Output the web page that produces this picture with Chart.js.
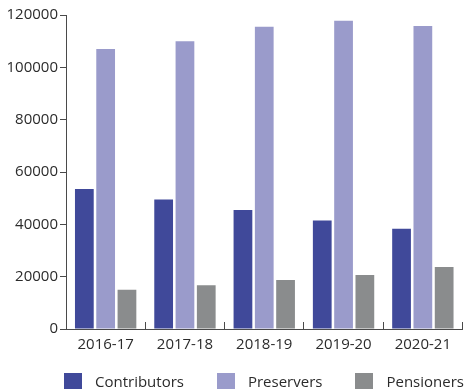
<!DOCTYPE html>
<html>
<head>
<meta charset="utf-8">
<script src="https://cdn.jsdelivr.net/npm/chart.js@4/dist/chart.umd.min.js"></script>
<style>
  body { margin: 0; background: #fff; }
  #chart-wrap { position: relative; width: 465px; height: 390px; }
  #members-legend {
      position: absolute; left: 64px; top: 373px;
      display: flex; margin: 0; padding: 0; list-style: none;
      font-family: 'Open Sans', sans-serif; font-size: 15px; color: #2b2b2b;
  }
  #members-legend li { display: flex; align-items: center; height: 16px; margin-right: 33px; white-space: nowrap; }
  #members-legend .box { width: 18px; height: 16px; margin-right: 13px; }
</style>
</head>
<body>
<div id="chart-wrap">
  <canvas id="members-bar-chart" width="465" height="390"></canvas>
  <ul id="members-legend"></ul>
</div>
<script>
// 연도별 회원 구성
const years = ["2016-17", "2017-18", "2018-19", "2019-20", "2020-21"];
const contributors = [53500, 49500, 45500, 41500, 38300];
const preservers = [107000, 110000, 115500, 117800, 115800];
const pensioners = [15000, 16700, 18700, 20600, 23700];
const yTicks = [0, 20000, 40000, 60000, 80000, 100000, 120000];

Chart.defaults.font.family = "'Open Sans', sans-serif";
Chart.defaults.font.size = 15;
Chart.defaults.color = "#2b2b2b";

const axisColor = "#4a4a4a";

var membersChart = new Chart(document.getElementById("members-bar-chart"), {
    type: 'bar',
    data: {
        labels: years,
        datasets: [{
            label: "Contributors",
            data: contributors,
            backgroundColor: "#40499a"
        }, {
            label: "Preservers",
            data: preservers,
            backgroundColor: "#9a9bcb"
        }, {
            label: "Pensioners",
            data: pensioners,
            backgroundColor: "#8a8c8d"
        }]
    },
    options: {
        responsive: false,
        animation: false,
        devicePixelRatio: 1,
        categoryPercentage: 0.806,
        barPercentage: 0.88,
        layout: {
            padding: { left: 0, right: 0, top: 15, bottom: 0 }
        },
        plugins: {
            tooltip: { enabled: false },
            legend: { display: false }
        },
        scales: {
            x: {
                grid: {
                    offset: true,
                    drawOnChartArea: false,
                    tickLength: -7,   // 눈금을 축 안쪽으로
                    color: axisColor
                },
                border: { color: axisColor, width: 1 },
                ticks: { padding: 14, color: "#2b2b2b" },
                afterFit: function(scale) { scale.height = 61; }
            },
            y: {
                min: 0,
                max: 120000,
                afterBuildTicks: function(scale) {
                    scale.ticks = yTicks.map(v => ({ value: v }));
                },
                grid: {
                    drawOnChartArea: false,
                    tickLength: 6,
                    color: axisColor
                },
                border: { color: axisColor, width: 1 },
                ticks: {
                    padding: 2,
                    color: "#2b2b2b",
                    callback: function(value) { return String(value); }
                },
                afterFit: function(scale) { scale.width = 66; }
            }
        }
    }
});

// 범례 (데이터셋 색상 그대로)
var legendList = document.getElementById("members-legend");
membersChart.data.datasets.forEach(function(ds) {
    var li = document.createElement("li");
    var box = document.createElement("span");
    box.className = "box";
    box.style.background = ds.backgroundColor;
    li.appendChild(box);
    li.appendChild(document.createTextNode(ds.label));
    legendList.appendChild(li);
});
</script>
</body>
</html>
